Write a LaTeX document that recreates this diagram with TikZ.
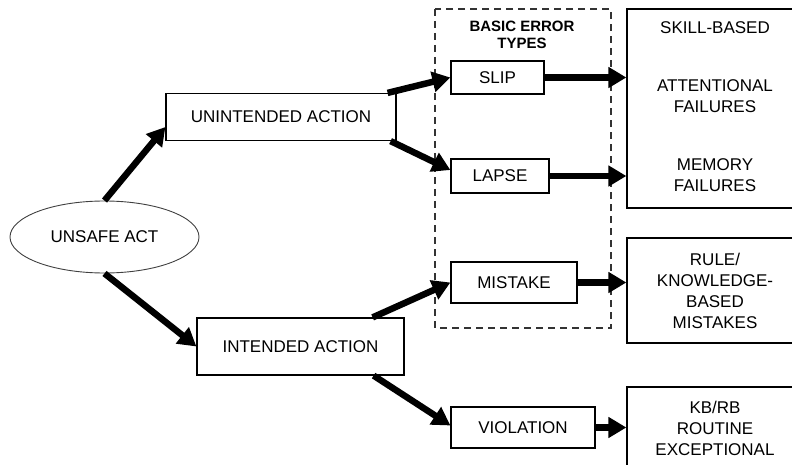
\documentclass[tikz,border=0pt]{standalone}
\usepackage{fontspec}
\setmainfont{Liberation Sans}
\usepackage{tikz}
\usetikzlibrary{arrows.meta,shapes.geometric,positioning}

\begin{document}
\begin{tikzpicture}[x=1pt,y=-1pt,
  font=\fontsize{17}{21}\selectfont,
  box/.style={draw,line width=1.2pt,inner sep=0pt,align=center},
  flow/.style={line width=6.5pt,-{Triangle[length=18pt,width=20pt]}}]
\useasboundingbox (0,0) rectangle (792,465);
\clip (0,0) rectangle (792,465);
\node[draw,ellipse,line width=0.9pt,draw=black!75,minimum width=189pt,minimum height=72pt,inner sep=0pt] (act) at (104.5,237) {UNSAFE ACT};
\node[box,minimum width=230pt,minimum height=47pt] (un) at (281,117) {UNINTENDED ACTION};
\node[box,minimum width=207pt,minimum height=57pt] (int) at (300.5,346.5) {INTENDED ACTION};
\draw[line width=1.4pt,draw=black!80,dash pattern=on 7pt off 5pt] (435,9) rectangle (611,328);
\node[font=\fontsize{15}{17}\selectfont\bfseries,align=center] (types) at (522,35) {BASIC ERROR\\TYPES};
\node[box,minimum width=93pt,minimum height=33pt] (slip) at (497.5,77.5) {SLIP};
\node[box,minimum width=98pt,minimum height=34pt] (lapse) at (500,176) {LAPSE};
\node[box,minimum width=126pt,minimum height=41pt] (mis) at (514,282.5) {MISTAKE};
\node[box,minimum width=144pt,minimum height=41pt] (vio) at (523,427.5) {VIOLATION};
\node[box,minimum width=176pt,minimum height=199pt] (sk) at (715,108.5) {};
\node (skill) at (715,28) {SKILL-BASED};
\node[align=center] (att) at (715,96) {ATTENTIONAL\\FAILURES};
\node[align=center] (mem) at (715,175) {MEMORY\\FAILURES};
\node[box,minimum width=176pt,minimum height=105pt] (rk) at (715,290.5) {RULE/\\KNOWLEDGE-\\BASED\\MISTAKES};
\node[box,minimum width=176pt,minimum height=82pt] (kb) at (715,428) {KB/RB\\ROUTINE\\EXCEPTIONAL};
\draw[flow] (act.north) -- ([yshift=-10pt]un.west);
\draw[flow] (act.south) -- (int.west);
\draw[flow] ([xshift=-9pt]un.north east) -- (slip.west);
\draw[flow] ([xshift=-6pt]un.south east) -- ([yshift=6pt]lapse.west);
\draw[flow] ([xshift=-32pt]int.north east) -- (mis.west);
\draw[flow] ([xshift=-31pt]int.south east) -- ([yshift=2pt]vio.west);
\draw[flow] (slip.east) -- (slip.east -| sk.west);
\draw[flow] (lapse.east) -- (lapse.east -| sk.west);
\draw[flow] (mis.east) -- (mis.east -| rk.west);
\draw[flow] (vio.east) -- (vio.east -| kb.west);
\end{tikzpicture}
\end{document}
